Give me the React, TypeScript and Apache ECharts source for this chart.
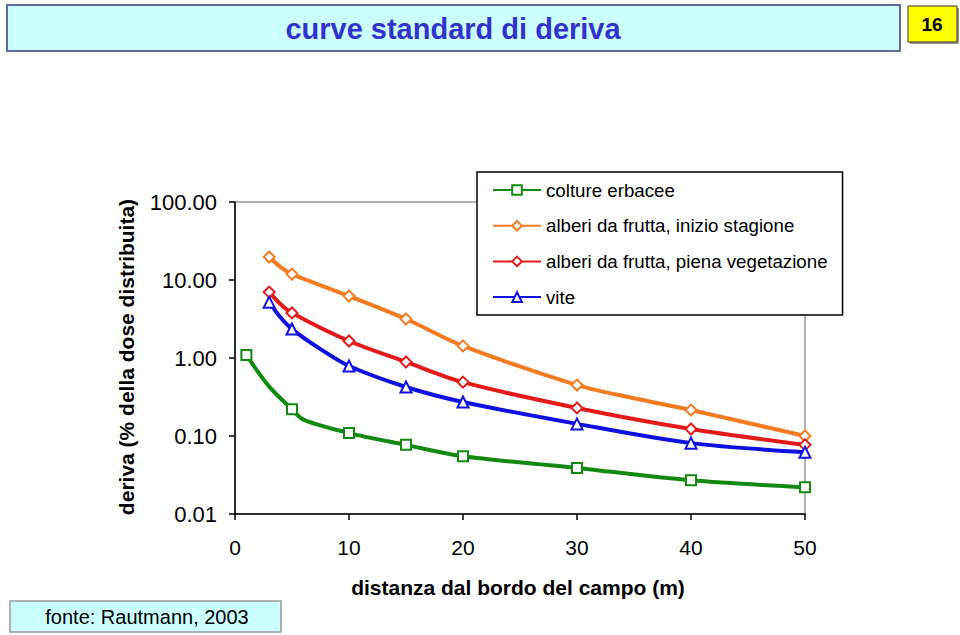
import React, { useEffect, useRef } from "react";
import * as echarts from "echarts";

// distances (m) with markers
const markX = [3, 5, 10, 15, 20, 30, 40, 50];
const markXGreen = [1, 5, 10, 15, 20, 30, 40, 50];

// series values at marker distances (% of applied dose)
const greenVals = [1.09, 0.22, 0.109, 0.077, 0.055, 0.039, 0.027, 0.022];
const orangeVals = [19.7, 11.9, 6.23, 3.16, 1.43, 0.45, 0.215, 0.1];
const redVals = [7.0, 3.78, 1.65, 0.89, 0.49, 0.229, 0.123, 0.077];
const blueVals = [5.2, 2.35, 0.79, 0.425, 0.273, 0.143, 0.081, 0.062];

// intermediate line points (no marker)
const greenExtraX = [3, 6];
const greenExtraY = [0.43, 0.162];
const orangeExtraX = [4, 35];
const orangeExtraY = [14.6, 0.305];
const redExtraX = [4];
const redExtraY = [4.9];
const blueExtraX = [4, 7.5];
const blueExtraY = [3.3, 1.3];

const yTicks = ["0.01", "0.10", "1.00", "10.00", "100.00"];

const names = [
  "colture erbacee",
  "alberi da frutta, inizio stagione",
  "alberi da frutta, piena vegetazione",
  "vite",
];
const colors = ["#128A12", "#F47B20", "#E41A1A", "#1010E0"];
const symbols = ["emptyRect", "emptyDiamond", "emptyDiamond", "emptyTriangle"];

function build(mx: number[], my: number[], ex: number[], ey: number[]) {
  const pts: any[] = [];
  mx.forEach((x, i) => pts.push({ value: [x, my[i]] }));
  ex.forEach((x, i) => pts.push({ value: [x, ey[i]], symbol: "none" }));
  pts.sort((a, b) => a.value[0] - b.value[0]);
  return pts;
}

const FONT = "Arial, 'Liberation Sans', sans-serif";

export default function App() {
  const ref = useRef<HTMLDivElement>(null);
  useEffect(() => {
    if (!ref.current) return;
    const chart = echarts.init(ref.current, undefined, { renderer: "svg" });
    const datas = [
      build(markXGreen, greenVals, greenExtraX, greenExtraY),
      build(markX, orangeVals, orangeExtraX, orangeExtraY),
      build(markX, redVals, redExtraX, redExtraY),
      build(markX, blueVals, blueExtraX, blueExtraY),
    ];
    chart.setOption({
      animation: false,
      backgroundColor: "#fff",
      textStyle: { fontFamily: FONT },
      grid: {
        left: 235,
        right: 155,
        top: 202,
        bottom: 121,
        show: true,
        borderColor: "#999",
        borderWidth: 1.5,
        backgroundColor: "transparent",
      },
      xAxis: {
        type: "value",
        min: 0,
        max: 50,
        interval: 10,
        axisLine: { show: true, lineStyle: { color: "#000", width: 1.5 } },
        axisTick: { show: true, length: 6, lineStyle: { color: "#000", width: 1.5 } },
        splitLine: { show: false },
        axisLabel: { color: "#000", fontSize: 21, margin: 23 },
      },
      yAxis: {
        type: "log",
        logBase: 10,
        min: 0.01,
        max: 100,
        axisLine: { show: true, lineStyle: { color: "#000", width: 1.5 } },
        axisTick: { show: true, length: 6, lineStyle: { color: "#000", width: 1.5 } },
        splitLine: { show: false },
        minorTick: { show: false },
        axisLabel: {
          color: "#000",
          fontSize: 22,
          margin: 18,
          formatter: (v: number) => {
            const idx = Math.round(Math.log10(v)) + 2;
            return yTicks[idx] ?? v.toFixed(2);
          },
        },
      },
      legend: {
        orient: "vertical",
        left: 477,
        top: 172,
        padding: [8, 15, 8, 15],
        itemWidth: 48,
        itemHeight: 12,
        itemGap: 15.7,
        borderColor: "#000",
        borderWidth: 1.5,
        backgroundColor: "#fff",
        textStyle: { fontSize: 18.7, color: "#000", lineHeight: 20 },
        data: names,
      },
      series: datas.map((d, i) => ({
        name: names[i],
        type: "line",
        data: d,
        smooth: 0.3,
        symbol: symbols[i],
        symbolSize: i === 0 ? 10 : 11,
        showAllSymbol: true,
        color: colors[i],
        lineStyle: { width: 4, color: colors[i] },
        itemStyle: { color: colors[i] },
        z: 2 + i,
      })),
      graphic: [
        {
          type: "rect",
          shape: { x: 7, y: 5, width: 893, height: 46 },
          style: { fill: "#CCFFFF", stroke: "#5B6B9B", lineWidth: 2 },
        },
        {
          type: "text",
          x: 453,
          y: 29,
          style: {
            text: "curve standard di deriva",
            fontSize: 29,
            fontWeight: "bold",
            fontFamily: FONT,
            fill: "#3333CC",
            align: "center",
            verticalAlign: "middle",
          },
        },
        {
          type: "rect",
          shape: { x: 910, y: 8, width: 49, height: 36 },
          style: { fill: "#999", stroke: "none" },
        },
        {
          type: "rect",
          shape: { x: 908, y: 6, width: 49, height: 36 },
          style: { fill: "#FFFF00", stroke: "#333", lineWidth: 1 },
        },
        {
          type: "text",
          x: 932,
          y: 24,
          style: {
            text: "16",
            fontSize: 19,
            fontWeight: "bold",
            fontFamily: FONT,
            fill: "#000",
            align: "center",
            verticalAlign: "middle",
          },
        },
        {
          type: "text",
          x: 126,
          y: 357,
          rotation: Math.PI / 2,
          style: {
            text: "deriva (% della dose distribuita)",
            fontSize: 21,
            fontWeight: "bold",
            fontFamily: FONT,
            fill: "#000",
            align: "center",
            verticalAlign: "middle",
          },
        },
        {
          type: "text",
          x: 518,
          y: 587,
          style: {
            text: "distanza dal bordo del campo (m)",
            fontSize: 21,
            fontWeight: "bold",
            fontFamily: FONT,
            fill: "#000",
            align: "center",
            verticalAlign: "middle",
          },
        },
        {
          type: "rect",
          shape: { x: 10, y: 601, width: 271, height: 31 },
          style: { fill: "#CCFFFF", stroke: "#999", lineWidth: 1.5 },
        },
        {
          type: "text",
          x: 147,
          y: 617,
          style: {
            text: "fonte: Rautmann, 2003",
            fontSize: 20,
            fontFamily: FONT,
            fill: "#000",
            align: "center",
            verticalAlign: "middle",
          },
        },
      ],
    });
    return () => chart.dispose();
  }, []);
  return (
    <div
      ref={ref}
      style={{ position: "absolute", left: 0, top: 0, width: 960, height: 635, background: "#fff" }}
    />
  );
}
